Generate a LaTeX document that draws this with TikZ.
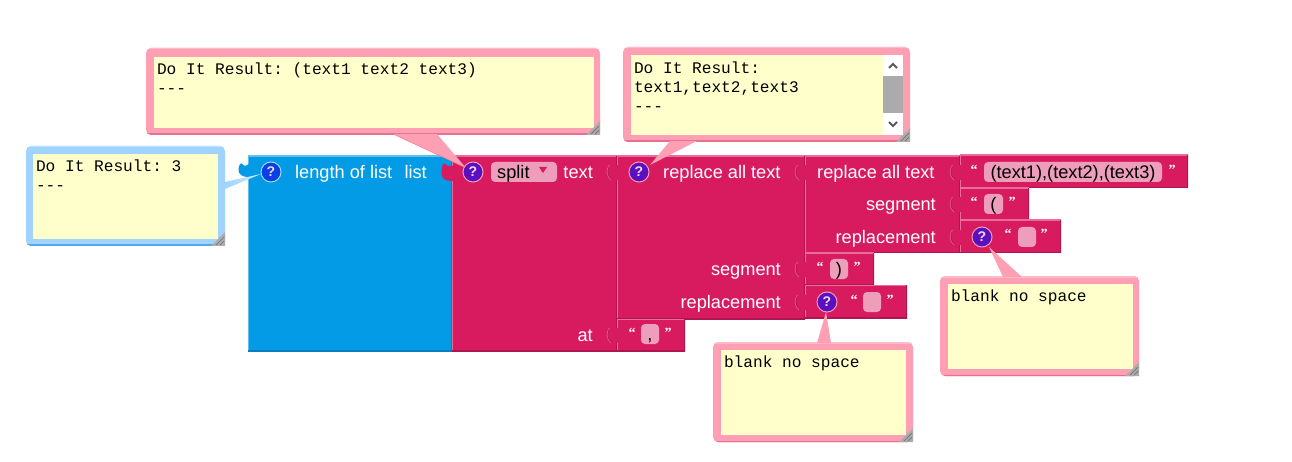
\documentclass[tikz,border=0pt]{standalone}
\usepackage{fontspec}
\setmainfont{Liberation Sans}
\setmonofont{Liberation Mono}
\newfontfamily\quotefont{Liberation Serif}
\usetikzlibrary{positioning}
\definecolor{blockred}{HTML}{D81B5F}
\definecolor{blockredlt}{HTML}{EA6D99}
\definecolor{blockreddk}{HTML}{AD1650}
\definecolor{blockblue}{HTML}{039BE5}
\definecolor{blockbluelt}{HTML}{5FC0F0}
\definecolor{blockbluedk}{HTML}{0A7CC0}
\definecolor{fieldpink}{HTML}{EE9DBB}
\definecolor{notepink}{HTML}{FF9FB3}
\definecolor{notepinklt}{HTML}{FFBBCA}
\definecolor{notepinkdk}{HTML}{E8708F}
\definecolor{noteblue}{HTML}{A0D4FF}
\definecolor{notebluelt}{HTML}{BDE2FF}
\definecolor{notebluedk}{HTML}{55A8EE}
\definecolor{noteyellow}{HTML}{FFFFCC}
\definecolor{helppurple}{HTML}{5B0FBE}
\definecolor{helpblue}{HTML}{0A3FE6}
\tikzset{edged/.style n args={3}{path picture={
  \draw [#1, line width=#3] (path picture bounding box.south west) -- (path picture bounding box.north west) -- (path picture bounding box.north east);
  \draw [#2, line width=#3] (path picture bounding box.south west) -- (path picture bounding box.south east) -- (path picture bounding box.north east);}}}
\tikzset{banded/.style 2 args={path picture={
  \draw [#1, line width=3pt] (path picture bounding box.north west) -- (path picture bounding box.north east);
  \draw [#2, line width=3pt] (path picture bounding box.south west) -- (path picture bounding box.south east);}}}
\tikzstyle{box} = [rectangle, inner sep=0pt, outer sep=0pt, anchor=north west]
\tikzstyle{redblock} = [box, fill=blockred, edged={blockredlt}{blockreddk}{1.5pt}]
\tikzstyle{blueblock} = [box, fill=blockblue, edged={blockbluelt}{blockbluedk}{1.5pt}]
\tikzstyle{pinknote} = [box, rounded corners=5pt, fill=notepink, banded={notepinklt}{notepinkdk}]
\tikzstyle{bluenote} = [box, rounded corners=5pt, fill=noteblue, banded={notebluelt}{notebluedk}]
\tikzstyle{paper} = [box, fill=noteyellow]
\tikzstyle{field} = [box, rounded corners=4pt, fill=fieldpink]
\tikzstyle{lbl} = [inner sep=0pt, yshift=-1.5pt, white, font=\fontsize{18.2}{21}\selectfont]
\tikzstyle{val} = [inner sep=0pt, yshift=-1.5pt, black, font=\fontsize{18.2}{21}\selectfont]
\tikzstyle{quot} = [inner sep=0pt, white, anchor=base, font=\quotefont\bfseries\fontsize{14}{16}\selectfont]
\tikzstyle{code} = [box, align=left, font=\ttfamily\fontsize{16.15}{19}\selectfont]
\tikzstyle{help} = [circle, inner sep=0pt, minimum size=20pt, line width=1pt, text=white!85!violet, font=\bfseries\fontsize{14}{16}\selectfont]
\tikzstyle{bluehelp} = [help, fill=helpblue, draw=blockbluelt!60!white]
\tikzstyle{purplehelp} = [help, fill=helppurple, draw=fieldpink]

\begin{document}
\begin{tikzpicture}[x=1pt, y=-1pt]
\path [fill=white, use as bounding box] (0, 0) rectangle (1292, 462);

\node [blueblock, minimum width=204pt, minimum height=195pt] (length) at (248, 156) {};
\node [redblock, minimum width=165pt, minimum height=195pt] (split) at (452, 156) {};
\node [redblock, minimum width=188pt, minimum height=163pt] (outer) at (617, 156) {};
\node [redblock, minimum width=155pt, minimum height=97pt] (inner) at (805, 156) {};
\node [redblock, minimum width=228pt, minimum height=33pt] (source) at (960, 155) {};
\node [redblock, minimum width=69pt, minimum height=32pt] (open) at (960, 188) {};
\node [redblock, minimum width=101pt, minimum height=33pt] (blanka) at (960, 220) {};
\node [redblock, minimum width=69pt, minimum height=32pt] (close) at (805, 253) {};
\node [redblock, minimum width=102pt, minimum height=33pt] (blankb) at (805, 285) {};
\node [redblock, minimum width=68pt, minimum height=32pt] (comma) at (617, 319) {};

\fill [blockblue] (249, 164) -- (245, 166) .. controls (243, 166) and (242, 162) .. (240, 164) .. controls (238, 168) and (238, 172) .. (240, 174) .. controls (243, 177) and (246, 177) .. (249, 177) -- cycle;
\fill [blockred] (453, 166) -- (448, 166) .. controls (446, 166) and (445, 162) .. (443, 164) .. controls (441, 168) and (441, 176) .. (443, 178) .. controls (446, 181) and (450, 181) .. (453, 181) -- cycle;
\foreach \x/\y in {617/163, 805/163, 960/163, 960/195, 960/228, 805/260, 805/293, 617/326} {
  \fill [blockred] (\x+1, \y+2) -- (\x-4, \y+2) -- (\x-4, \y+17) -- (\x+1, \y+17) -- cycle;
  \draw [blockredlt!70!blockred, line width=0.8pt] (\x-7.5, \y+2) .. controls (\x-11, \y+6) and (\x-11, \y+13) .. (\x-6, \y+17);
  \draw [blockreddk, line width=0.5pt] (\x-8, \y+4) .. controls (\x-10, \y+8) and (\x-9, \y+14) .. (\x-5, \y+16);
}

\node [bluenote, minimum width=199pt, minimum height=100pt] (noteresult) at (26, 146) {};
\node [pinknote, minimum width=454pt, minimum height=87pt] (notesplit) at (146, 48) {};
\node [pinknote, minimum width=287pt, minimum height=95pt] (notereplace) at (623, 47) {};
\node [pinknote, minimum width=199pt, minimum height=100pt] (noteblanka) at (940, 276) {};
\node [pinknote, minimum width=200pt, minimum height=100pt] (noteblankb) at (713, 342) {};

\node [paper, minimum width=185pt, minimum height=85pt] (paperresult) at (33, 154) {};
\node [paper, minimum width=440pt, minimum height=71pt] (papersplit) at (154, 57) {};
\node [paper, minimum width=252pt, minimum height=80pt] (paperreplace) at (631, 55) {};
\node [paper, minimum width=185pt, minimum height=85pt] (paperblanka) at (948, 284) {};
\node [paper, minimum width=185pt, minimum height=85pt] (paperblankb) at (721, 350) {};

\node [box, fill=white, minimum width=20pt, minimum height=80pt] (scroll) at (883, 55) {};
\node [box, fill=black!33, minimum width=20pt, minimum height=37pt] (thumb) at (883, 76) {};
\draw [black!65, line width=2pt] (889, 68) -- (893, 64) -- (897, 68);
\draw [black!65, line width=2pt] (889, 122) -- (893, 126) -- (897, 122);

\foreach \x/\y in {225/246, 600/135, 910/142, 1139/376, 913/442} {
  \fill [black!33] (\x-14, \y) -- (\x, \y-14) -- (\x, \y) -- cycle;
  \draw [black!55, line width=0.7pt] (\x-9, \y-1) -- (\x-1, \y-9) (\x-5, \y-1) -- (\x-1, \y-5);
}

\coordinate (tipresult) at (261, 174);
\coordinate (tipsplit) at (466, 168);
\coordinate (tipreplace) at (650, 165);
\coordinate (tipblanka) at (989, 247);
\coordinate (tipblankb) at (826, 312);
\coordinate (resulta) at (225, 182);
\coordinate (resultb) at (225, 189);
\coordinate (splita) at (393, 134);
\coordinate (splitb) at (437, 134);
\coordinate (replacea) at (670, 141);
\coordinate (replaceb) at (697, 141);
\coordinate (blankaa) at (1003, 277);
\coordinate (blankab) at (1022, 277);
\coordinate (blankba) at (817, 343);
\coordinate (blankbb) at (831, 343);
\shade [left color=noteblue, right color=noteblue!50!white] (resulta) -- (tipresult) -- (resultb) -- cycle;
\fill [notepink] (splita) -- (tipsplit) -- (splitb) -- cycle;
\fill [notepink] (replacea) -- (tipreplace) -- (replaceb) -- cycle;
\fill [notepink] (blankaa) -- (tipblanka) -- (blankab) -- cycle;
\fill [notepink] (blankba) -- (tipblankb) -- (blankbb) -- cycle;
\draw [notepinkdk] (splita) -- (tipsplit);

\node [bluehelp] (helpresult) at (271, 172) {?};
\node [purplehelp] (helpsplit) at (473, 172) {?};
\node [purplehelp] (helpreplace) at (639, 172) {?};
\node [purplehelp] (helpblanka) at (982, 237) {?};
\node [purplehelp] (helpblankb) at (827, 302) {?};

\node [lbl, anchor=base west] (lengthtext) at (295, 177) {length of list};
\node [lbl, anchor=base east] (listtext) at (427, 177) {list};
\node [lbl, anchor=base east] (texttext) at (593, 177) {text};
\node [lbl, anchor=base east] (attext) at (593, 340) {at};
\node [lbl, anchor=base west] (outertext) at (663, 177) {replace all text};
\node [lbl, anchor=base east] (outerseg) at (781, 274) {segment};
\node [lbl, anchor=base east] (outerrep) at (781, 307) {replacement};
\node [lbl, anchor=base west] (innertext) at (817, 177) {replace all text};
\node [lbl, anchor=base east] (innerseg) at (936, 209) {segment};
\node [lbl, anchor=base east] (innerrep) at (936, 242) {replacement};

\node [field, minimum width=66pt, minimum height=20pt] (splitfield) at (491, 162) {};
\node [val, anchor=base west] (splittext) at (497, 177) {split};
\fill [blockred] (539, 167) -- (547, 167) -- (543, 173) -- cycle;

\node [field, minimum width=178pt, minimum height=20pt] (sourcefield) at (984, 162) {};
\node [val, anchor=base] (sourcetext) at (1073, 177) {(text1),(text2),(text3)};
\node [field, minimum width=19pt, minimum height=20pt] (openfield) at (984, 194) {};
\node [val, anchor=base] (opentext) at (993.5, 209) {(};
\node [field, minimum width=18pt, minimum height=20pt] (blankafield) at (1018, 227) {};
\node [field, minimum width=18pt, minimum height=20pt] (closefield) at (830, 259) {};
\node [val, anchor=base] (closetext) at (839, 274) {)};
\node [field, minimum width=18pt, minimum height=20pt] (blankbfield) at (863, 292) {};
\node [field, minimum width=18pt, minimum height=20pt] (commafield) at (641, 324) {};
\node [val, anchor=base] (commatext) at (650, 339) {,};

\foreach \x/\y/\q in {974/175/“, 1172/175/”, 974/207/“, 1012/207/”, 1008/239/“, 1044/239/”, 820/272/“, 857/272/”, 854/304/“, 890/304/”, 632/337/“, 668/337/”} {
  \node [quot] at (\x, \y) {\q};
}

\node [code] (coderesult) at (36, 158) {\strut Do It Result: 3\\---};
\node [code] (codesplit) at (157, 61) {\strut Do It Result: (text1 text2 text3)\\---};
\node [code] (codereplace) at (634, 60) {\strut Do It Result:\\text1,text2,text3\\---};
\node [code] (codeblanka) at (951, 288) {\strut blank no space};
\node [code] (codeblankb) at (724, 354) {\strut blank no space};
\end{tikzpicture}
\end{document}
